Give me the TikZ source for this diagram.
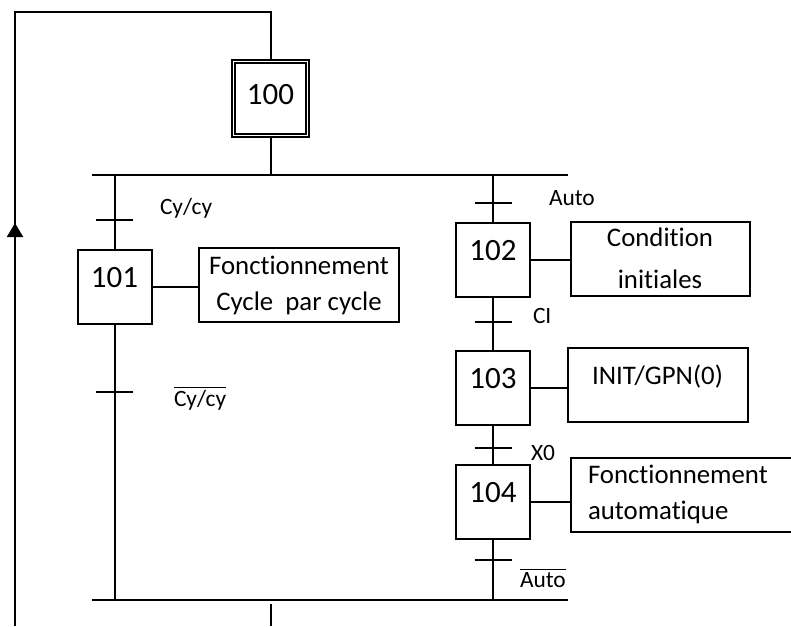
\documentclass[tikz,border=0pt]{standalone}
\usepackage{fontspec}
\setmainfont{Carlito}[RawFeature={-liga;-clig;-calt}]
\usetikzlibrary{arrows.meta}

\tikzset{
  etape/.style={draw, minimum size=37pt, inner sep=0pt,
    text height=10pt, text depth=9.2pt, font=\fontsize{15.5}{18}\selectfont},
  initiale/.style={etape, double, double distance=0.8pt, text depth=3.7pt},
  action/.style={draw, inner sep=0pt, minimum height=37pt, align=center,
    font=\fontsize{13.4}{18}\selectfont},
  recept/.style={anchor=west, inner sep=0pt, font=\fontsize{11.7}{14}\selectfont},
}

\begin{document}
\begin{tikzpicture}[x=0.5pt, y=-0.5pt, line width=1pt]
  \useasboundingbox (0,0) rectangle (791,626);

  % Etapes
  \node[initiale] (e100) at (270.5,98.5) {100};
  \node[etape] (e101) at (114.5,287) {101};
  \node[etape] (e102) at (493,260) {102};
  \node[etape] (e103) at (493,388) {103};
  \node[etape] (e104) at (493,502) {104};

  % Actions
  \node[action, minimum width=100pt] (a101) at (299,285) {Fonctionnement\\Cycle\ \ par cycle};
  \node[action, minimum width=89.5pt] (a102) at (660,258.5) {Condition\\[3pt]initiales};
  \node[action, minimum width=90pt, text height=8pt, text depth=8.4pt] (a103) at (657.5,384.5) {INIT/GPN(0)};
  \node[action, anchor=west, text width=113pt, align=left, inner xsep=8.5pt] (a104) at (570,494.5) {Fonctionnement\\automatique};

  \draw (e101.east) -- (e101.east -| a101.west);
  \draw (e102.east) -- (e102.east -| a102.west);
  \draw (e103.east) -- (e103.east -| a103.west);
  \draw (e104.east) -- (e104.east -| a104.west);

  % Divergence et convergence en OU
  \coordinate (dh1) at (92,175);
  \coordinate (dh2) at (568,175);
  \coordinate (ch1) at (92,600);
  \coordinate (ch2) at (568,600);
  \draw (dh1) -- (dh2);
  \draw (ch1) -- (ch2);
  \draw (e100.south) -- (e100.south |- dh1);

  % Branche cycle par cycle
  \draw (e101.north) -- (e101.north |- dh1);
  \draw (e101.south) -- (e101.south |- ch1);

  % Branche automatique
  \draw (e102.north) -- (e102.north |- dh1);
  \draw (e102.south) -- (e103.north);
  \draw (e103.south) -- (e104.north);
  \draw (e104.south) -- (e104.south |- ch1);

  % Transitions
  \coordinate (t1) at (114.5,220);
  \coordinate (t2) at (114.5,392);
  \coordinate (t3) at (493,203);
  \coordinate (t4) at (493,322);
  \coordinate (t5) at (493,448);
  \coordinate (t6) at (493,560);
  \foreach \t in {t1,t2,t3,t4,t5,t6}
    \draw (\t) ++(-18.5,0) -- ++(37,0);

  \node[recept] (r1) at (159,208) {Cy/cy};
  \node[recept] (r2) at (173,398) {$\overline{\mbox{Cy/cy}}$};
  \node[recept] (r3) at (548,198) {Auto};
  \node[recept] (r4) at (532,316) {CI};
  \node[recept] (r5) at (530,453) {X0};
  \node[recept] (r6) at (519,578) {$\overline{\mbox{Auto}}$};

  % Retour
  \coordinate (sortie) at (271,604);
  \coordinate (bas) at (15,626);
  \draw (sortie) -- (sortie |- bas);
  \draw (bas) -- (15,12) -| (e100.north);
  \draw[-{Triangle[width=8pt,length=7pt]}] (bas) -- (15,223);
\end{tikzpicture}
\end{document}
